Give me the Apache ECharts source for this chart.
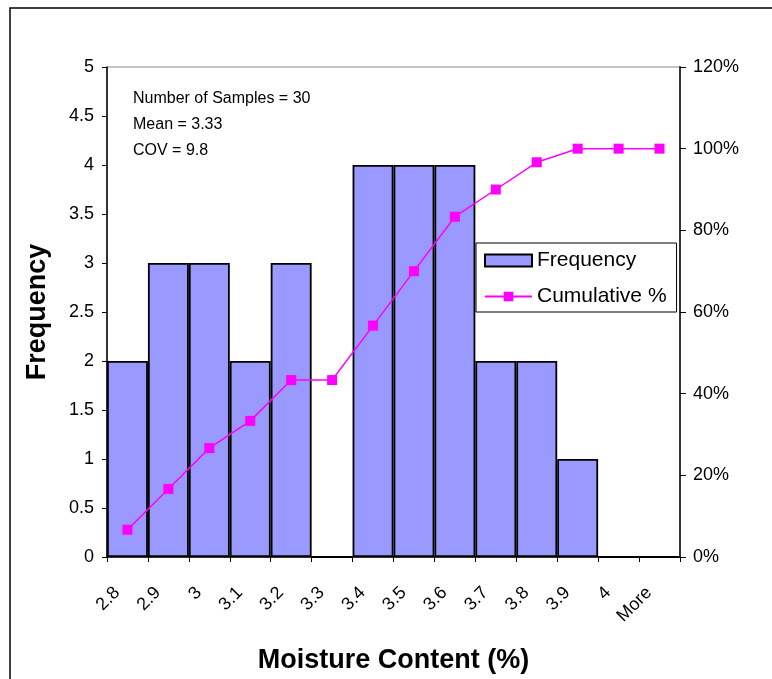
<!DOCTYPE html>
<html>
<head>
<meta charset="utf-8">
<script src="https://cdn.jsdelivr.net/npm/echarts@6/dist/echarts.min.js"></script>
<style>
  html, body { margin: 0; padding: 0; background: #fff; }
  #chart { width: 772px; height: 679px; }
</style>
</head>
<body>
<div id="chart"></div>
<script>
var categories = ["2.8", "2.9", "3", "3.1", "3.2", "3.3", "3.4", "3.5", "3.6", "3.7", "3.8", "3.9", "4", "More"];
var frequency = [2, 3, 3, 2, 3, 0, 4, 4, 4, 2, 2, 1, 0, 0];
var cumulative = [6.67, 16.67, 26.67, 33.33, 43.33, 43.33, 56.67, 70, 83.33, 90, 96.67, 100, 100, 100];
// labels sit on the bin edges, so one extra empty slot at the end
var edgeLabels = categories.concat([""]);
var notes = ["Number of Samples = 30", "Mean = 3.33", "COV = 9.8"];

var font = "Liberation Sans, Arial, sans-serif";
var chart = echarts.init(document.getElementById("chart"));

var option = {
  animation: false,
  textStyle: { fontFamily: font },
  grid: [
    { left: 107, right: 92, top: 67, bottom: 122, show: true, borderColor: "#888", borderWidth: 1 },
    { left: 117, right: 82, top: 67, bottom: 122 }
  ],
  legend: {
    left: 476,
    top: 243,
    orient: "vertical",
    backgroundColor: "#fff",
    borderColor: "#000",
    borderWidth: 1,
    borderRadius: 0,
    padding: [7, 10, 5, 8],
    itemWidth: 47,
    itemHeight: 12,
    itemGap: 15,
    textStyle: { fontSize: 21, color: "#000", fontFamily: font },
    data: [{ name: "Frequency", icon: "rect" }, { name: "Cumulative %" }]
  },
  xAxis: [
    {
      type: "category",
      gridIndex: 0,
      data: categories,
      boundaryGap: true,
      axisLine: { lineStyle: { color: "#000", width: 1.5 } },
      axisTick: { show: true, length: 5, lineStyle: { color: "#000" } },
      axisLabel: { show: false },
      name: "Moisture Content (%)",
      nameLocation: "middle",
      nameGap: 90,
      nameTextStyle: { fontSize: 27, fontWeight: "bold", color: "#000", fontFamily: font }
    },
    {
      type: "category",
      gridIndex: 1,
      data: edgeLabels,
      boundaryGap: false,
      axisLine: { show: false },
      axisTick: { show: false },
      axisLabel: { rotate: 45, margin: 33, fontSize: 18, color: "#000", interval: 0, fontFamily: font }
    }
  ],
  yAxis: [
    {
      type: "value",
      gridIndex: 0,
      min: 0,
      max: 5,
      interval: 0.5,
      splitLine: { show: false },
      axisLine: { show: true, lineStyle: { color: "#000", width: 1.5 } },
      axisTick: { show: true, length: 5, lineStyle: { color: "#000" } },
      axisLabel: { margin: 13, fontSize: 18, color: "#000", fontFamily: font },
      name: "Frequency",
      nameLocation: "middle",
      nameRotate: 90,
      nameGap: 56,
      nameTextStyle: { fontSize: 27, fontWeight: "bold", color: "#000", fontFamily: font }
    },
    {
      type: "value",
      gridIndex: 0,
      position: "right",
      min: 0,
      max: 120,
      interval: 20,
      splitLine: { show: false },
      axisLine: { show: true, lineStyle: { color: "#333", width: 2 } },
      axisTick: { show: true, length: 6, lineStyle: { color: "#000" } },
      axisLabel: { margin: 13, fontSize: 18, color: "#000", formatter: "{value}%", fontFamily: font }
    },
    { type: "value", gridIndex: 1, show: false }
  ],
  series: [
    {
      name: "Frequency",
      type: "bar",
      xAxisIndex: 0,
      yAxisIndex: 0,
      data: frequency,
      barCategoryGap: "0%",
      itemStyle: { color: "#9999FF", borderColor: "#000", borderWidth: 1.8 }
    },
    {
      name: "Cumulative %",
      type: "line",
      xAxisIndex: 0,
      yAxisIndex: 1,
      data: cumulative,
      symbol: "rect",
      symbolSize: 10,
      lineStyle: { color: "#FF00FF", width: 1.5 },
      itemStyle: { color: "#FF00FF" }
    }
  ],
  graphic: [
    {
      type: "rect",
      shape: { x: 10, y: 8, width: 800, height: 700 },
      style: { fill: "none", stroke: "#000", lineWidth: 1.5 },
      silent: true
    }
  ].concat(notes.map(function (t, i) {
    return {
      type: "text",
      left: 133,
      top: 91 + i * 26,
      style: { text: t, fontSize: 16, fill: "#000", fontFamily: font }
    };
  }))
};

chart.setOption(option);
</script>
</body>
</html>
